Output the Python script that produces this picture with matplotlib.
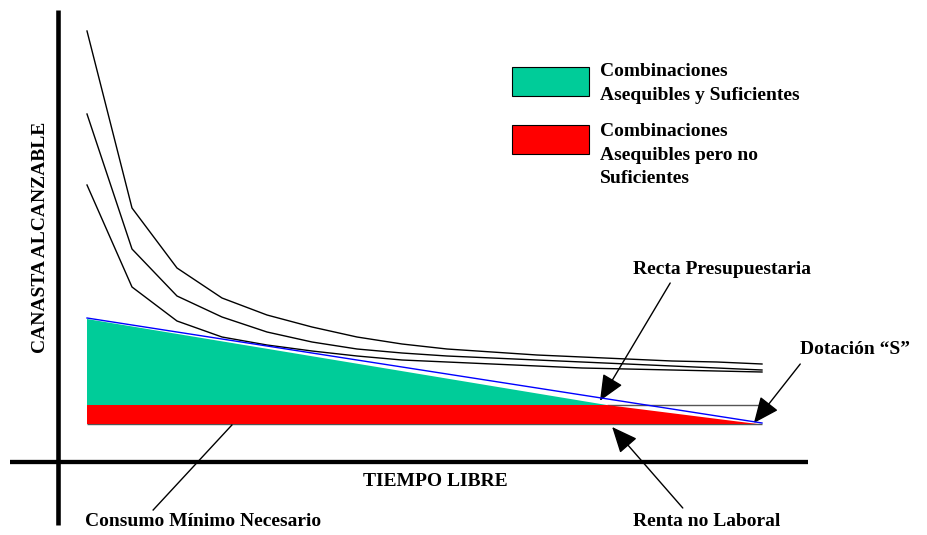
import matplotlib
matplotlib.use("Agg")
import matplotlib.pyplot as plt
from matplotlib.patches import Rectangle

plt.rcParams['font.family'] = ['Liberation Serif', 'DejaVu Serif']
plt.rcParams['font.weight'] = 'bold'

# tiempo libre (eje horizontal) en los vértices de las curvas
tiempo = [6, 16, 26, 36, 46, 56, 66, 76, 86, 96, 106, 116, 126, 136, 146, 156]
# curvas de indiferencia (canasta alcanzable)
curva_alta = [107.75, 63.5, 48.5, 41, 36.75, 33.75, 31.25, 29.5, 28.25, 27.5,
              26.75, 26.25, 25.75, 25.25, 25, 24.5]
curva_media = [87, 53.25, 41.5, 36.25, 32.5, 30, 28.25, 27.25, 26.5, 26,
               25.5, 25, 24.5, 24, 23.5, 23]
curva_baja = [69.25, 43.75, 35.25, 31.25, 29.25, 27.75, 26.5, 25.5, 25, 24.5,
              24, 23.5, 23.25, 23, 22.75, 22.5]

# recta presupuestaria
recta_x = [6, 156]
recta_y = [36, 9.75]
# borde superior de las zonas coloreadas
frontera_x = [6, 121.5, 155]
frontera_y = [35.75, 14.25, 9.5]

consumo_minimo = 14.25
renta_no_laboral = 9.5

verde = '#00CC99'
rojo = '#FF0000'
fs = 14

fig = plt.figure(figsize=(9.28, 5.35), dpi=100)
ax = fig.add_axes([0, 0, 1, 1])
ax.set_xlim(-60 / 4.5, 868 / 4.5)
ax.set_ylim(-73 / 4, 462 / 4)
ax.axis('off')

# zonas
x0, xc, xs = frontera_x
ax.fill([x0, xc, x0], [frontera_y[0], consumo_minimo, consumo_minimo],
        color=verde, lw=0, zorder=2)
ax.fill([x0, xc, xs, x0], [consumo_minimo, consumo_minimo, renta_no_laboral, renta_no_laboral],
        color=rojo, lw=0, zorder=2)
ax.hlines(consumo_minimo, xc, tiempo[-1], color='#555555', lw=1, zorder=1)
ax.hlines(renta_no_laboral, x0, tiempo[-1], color='#555555', lw=1, zorder=1)

# curvas y recta
for curva in (curva_alta, curva_media, curva_baja):
    ax.plot(tiempo, curva, color='black', lw=1.0, zorder=3)
ax.plot(recta_x, recta_y, color='blue', lw=1.0, zorder=4)

# ejes
ax.plot([-0.5, -0.5], [113, -15.75], color='black', lw=3.3, solid_capstyle='butt')
ax.plot([-11.1, 166.2], [0, 0], color='black', lw=3.1, solid_capstyle='butt')
ax.text(83.3, -4.75, 'TIEMPO LIBRE', fontsize=fs, ha='center', va='center')
ax.text(-4.4, 56.25, 'CANASTA ALCANZABLE', fontsize=fs, rotation=90,
        ha='center', va='center')

# leyenda
ax.add_patch(Rectangle((100.4, 91.5), 17.1, 7.25, facecolor=verde, edgecolor='black', lw=0.8))
ax.add_patch(Rectangle((100.4, 77), 17.1, 7.25, facecolor=rojo, edgecolor='black', lw=0.8))
ax.text(120, 94.6, 'Combinaciones\nAsequibles y Suficientes', fontsize=fs,
        ha='left', va='center', linespacing=1.5)
ax.text(120, 76.75, 'Combinaciones\nAsequibles pero no\nSuficientes', fontsize=fs,
        ha='left', va='center', linespacing=1.5)

# anotaciones
flecha = dict(arrowstyle='-|>,head_length=0.8,head_width=0.35', color='black',
              lw=1, shrinkA=0, shrinkB=0, mutation_scale=20)
ax.annotate('', xy=(120, 15.3), xytext=(135.6, 44.75), arrowprops=flecha)
ax.text(127.3, 48, 'Recta Presupuestaria', fontsize=fs, ha='left', va='center')
ax.annotate('', xy=(154.2, 9.75), xytext=(164.5, 24.5), arrowprops=flecha)
ax.text(164.4, 28.25, 'Dotación “S”', fontsize=fs, ha='left', va='center')
ax.annotate('', xy=(122.7, 8.75), xytext=(138.4, -11.5), arrowprops=flecha)
ax.text(143.8, -14.75, 'Renta no Laboral', fontsize=fs, ha='center', va='center')
ax.plot([38.2, 20.7], [9.25, -12], color='black', lw=1)
ax.text(31.8, -14.75, 'Consumo Mínimo Necesario', fontsize=fs, ha='center', va='center')

fig.savefig('out.png', dpi=100)
